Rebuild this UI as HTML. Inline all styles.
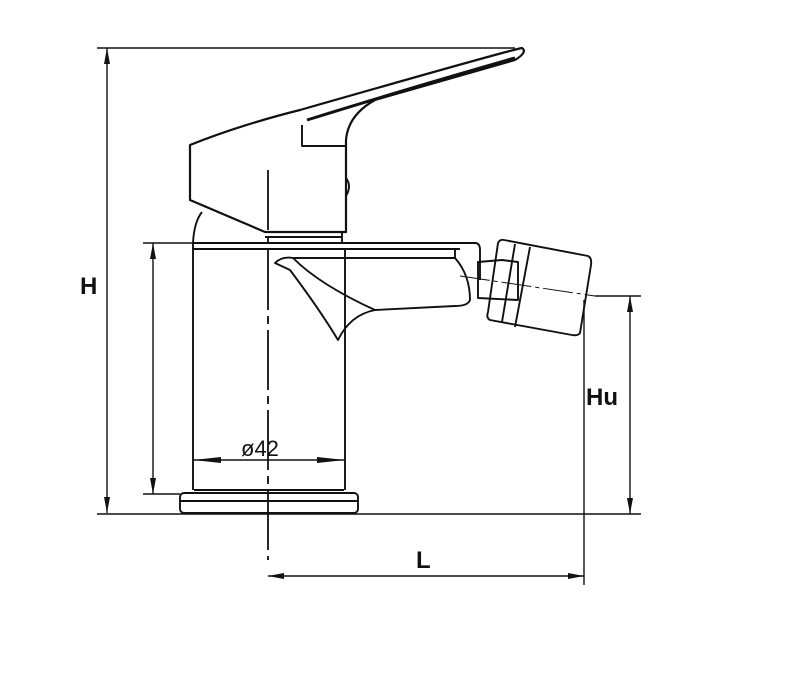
<!DOCTYPE html>
<html><head><style>body{margin:0;background:#fff}svg{display:block}</style></head><body>
<svg width="810" height="700" viewBox="0 0 810 700" xmlns="http://www.w3.org/2000/svg" fill="none" stroke="#111" stroke-width="1.9" stroke-linejoin="round">
<!-- dimension lines -->
<g stroke-width="1.4">
<line x1="97" y1="48" x2="515" y2="48"/>
<line x1="107" y1="48" x2="107" y2="513"/>
<line x1="97" y1="514" x2="641" y2="514"/>
<line x1="143" y1="243" x2="193" y2="243"/>
<line x1="143" y1="494" x2="180" y2="494"/>
<line x1="153" y1="243" x2="153" y2="494"/>
<line x1="595" y1="296" x2="641" y2="296"/>
<line x1="630" y1="296" x2="630" y2="514"/>
<line x1="584" y1="300" x2="584" y2="585"/>
<line x1="268" y1="576" x2="584" y2="576"/>
<line x1="193" y1="460" x2="345" y2="460"/>
<line x1="268" y1="170" x2="268" y2="560" stroke-dasharray="60,6,8,6" stroke-width="1.8"/>
</g>
<g fill="#111" stroke="none">
<polygon points="107,48 104,64 110,64"/><polygon points="107,513 104,497 110,497"/>
<polygon points="153,243 150,259 156,259"/><polygon points="153,494 150,478 156,478"/>
<polygon points="630,296 627,312 633,312"/><polygon points="630,514 627,498 633,498"/>
<polygon points="268,576 284,573 284,579"/><polygon points="584,576 568,573 568,579"/>
<polygon points="193,460 221,457 221,463"/><polygon points="345,460 317,457 317,463"/>
</g>
<g font-family="Liberation Sans, sans-serif" fill="#111" stroke="none">
<text x="80" y="294" font-size="24" font-weight="bold">H</text>
<text x="586" y="405" font-size="24" font-weight="bold">Hu</text>
<text x="416" y="568" font-size="24" font-weight="bold">L</text>
<text x="241" y="456" font-size="22">ø42</text>
</g>
<!-- base -->
<rect x="180" y="493" width="178" height="20" rx="4"/>
<line x1="180" y1="501" x2="358" y2="501"/>
<line x1="194" y1="490" x2="344" y2="490"/>
<!-- body -->
<line x1="193" y1="243" x2="193" y2="490"/>
<line x1="345" y1="250" x2="345" y2="490"/>
<line x1="193" y1="243" x2="475" y2="243"/>
<line x1="193" y1="249" x2="460" y2="249"/>
<path d="M475,243 Q480,243 480,250 L480,280"/>
<path d="M193,243 Q194,222 202,212"/>
<!-- spout -->
<path d="M275,263 Q282,256 293,258 L455,258 Q470,275 470,300 Q468,306 455,306 L375,310 Q350,315 338,340 Q320,310 290,270 Z"/>
<path d="M293,258 Q320,285 375,310"/>
<path d="M455,258 L455,249"/>
<!-- handle -->
<path d="M190,145 L190,200 L265,232 L346,232 L346,140 Q348,115 375,100 L515,60 Q528,52 522,48 Q510,50 300,110 Q240,125 190,145 Z" stroke-width="2.2"/>
<path d="M302,125 L302,146 L346,146"/>
<path d="M307,120 Q420,85 515,58" stroke-width="3"/>
<path d="M346,178 Q352,186 346,196"/>
<line x1="265" y1="237" x2="342" y2="237"/>
<line x1="342" y1="232" x2="342" y2="243"/>
<!-- aerator -->
<path d="M478,262 L502,260 L518,262 L518,300 L478,298 Z"/>
<path d="M504,240 L588,256 Q592,258 591,265 L580,333 Q578,336 572,335 L490,320 Q486,318 488,312 L498,243 Q500,239 504,240 Z"/>
<line x1="515" y1="244" x2="502" y2="322"/>
<line x1="530" y1="247" x2="515" y2="327"/>
<line x1="460" y1="276" x2="595" y2="296" stroke-width="1" stroke-dasharray="30,4,4,4"/>
</svg>
</body></html>
